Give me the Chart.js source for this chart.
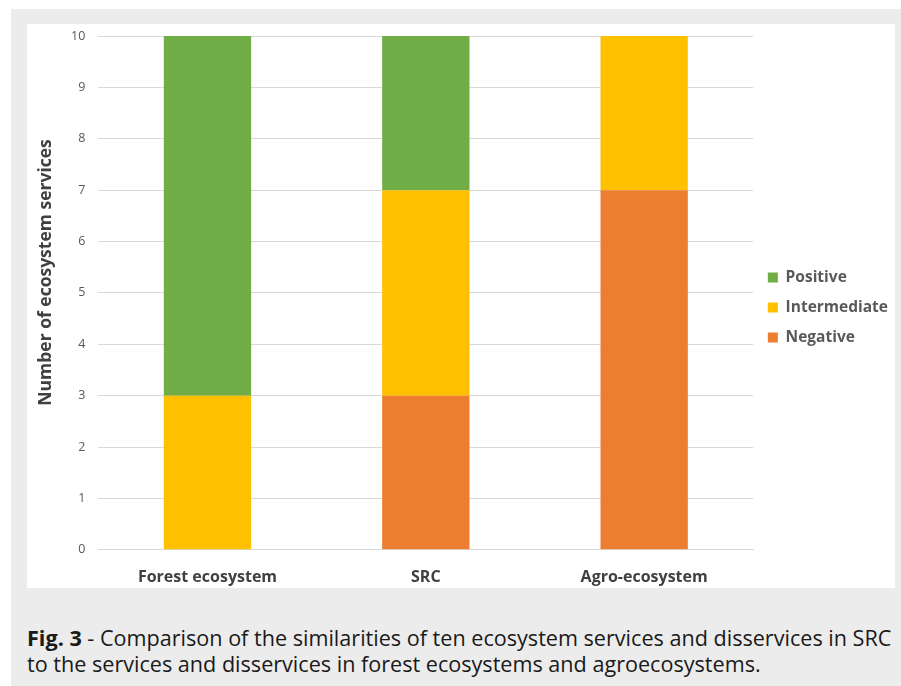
<!DOCTYPE html>
<html><head><meta charset="utf-8">
<script src="https://cdn.jsdelivr.net/npm/chart.js@4"></script>
<style>
html,body{margin:0;padding:0;background:#fff;}
#outer{position:absolute;left:11px;top:9px;width:890px;height:677px;background:#ececec;}
#panel{position:absolute;left:27px;top:24px;width:868px;height:564px;background:#fff;}
#cap{position:absolute;left:27px;top:625px;width:874px;white-space:nowrap;font-family:"Open Sans",sans-serif;font-size:21.6px;line-height:26px;color:#1a1a1a;}
</style></head>
<body>
<div id="outer"></div>
<div id="panel"><canvas id="c" width="868" height="564"></canvas></div>
<div id="cap"><b>Fig. 3</b> - Comparison of the similarities of ten ecosystem services and disservices in SRC<br>to the services and disservices in forest ecosystems and agroecosystems.</div>
<script>
const categories = ["Forest ecosystem", "SRC", "Agro-ecosystem"];
const negative = [0, 3, 7];
const intermediate = [3, 4, 3];
const positive = [7, 3, 0];
const yTicks = [0,1,2,3,4,5,6,7,8,9,10];
const yTitle = 'Number of ecosystem services';

const font = "'Open Sans', sans-serif";
const legendShift = {
  id: 'legendShift',
  afterLayout(chart) {
    if (chart.legend) { chart.legend.top -= 13; chart.legend.bottom -= 13; }
  }
};
new Chart(document.getElementById('c'), {
  type: 'bar',
  data: {
    labels: categories,
    datasets: [
      {label: 'Negative', data: negative, backgroundColor: '#ED7D31'},
      {label: 'Intermediate', data: intermediate, backgroundColor: '#FFC000'},
      {label: 'Positive', data: positive, backgroundColor: '#70AD47'}
    ]
  },
  plugins: [legendShift],
  options: {
    responsive: false,
    animation: false,
    layout: {padding: {left: 9, top: 12, right: -3, bottom: -17}},
    datasets: {bar: {categoryPercentage: 1, barPercentage: 0.4}},
    plugins: {
      legend: {
        position: 'right', reverse: true,
        labels: {boxWidth: 10, boxHeight: 10, padding: 14.5, color: '#595959',
          font: {family: font, size: 15.5, weight: 'bold'}}
      },
      tooltip: {enabled: false}
    },
    scales: {
      x: {
        stacked: true,
        grid: {display: false, drawTicks: false},
        border: {color: '#d9d9d9'},
        ticks: {color: '#404040', font: {family: font, size: 16, weight: 'bold'}, padding: 18}
      },
      y: {
        stacked: true, min: 0, max: 10,
        afterBuildTicks: (ax) => { ax.ticks = yTicks.map(v => ({value: v})); },
        afterFit: (ax) => { ax.paddingTop = 0; ax.paddingBottom = 0; },
        grid: {color: '#d9d9d9', drawTicks: false},
        border: {display: false},
        ticks: {color: '#595959', font: {family: font, size: 12.5}, padding: 13},
        title: {display: true, text: '         ' + yTitle, color: '#404040',
          font: {family: font, size: 17.5, weight: 'bold'}, padding: {top: 0, bottom: 1}}
      }
    }
  }
});
</script>
</body></html>
